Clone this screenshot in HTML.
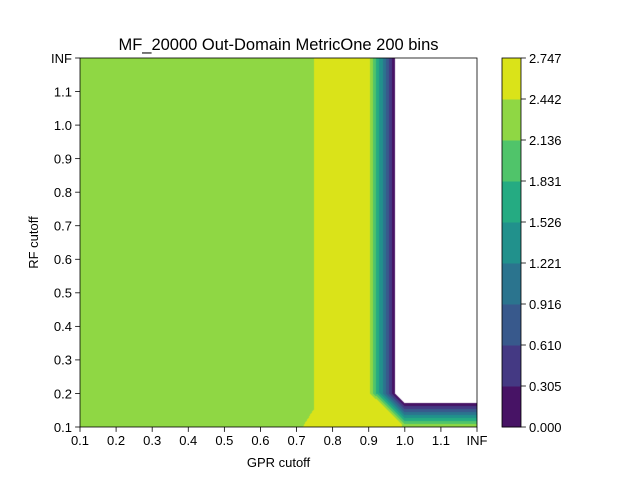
<!DOCTYPE html>
<html><head><meta charset="utf-8">
<style>
body{margin:0;background:#fff;}
#wrap{position:relative;width:640px;height:480px;font-family:"Liberation Sans","DejaVu Sans",sans-serif;}
svg text{font-family:"Liberation Sans","DejaVu Sans",sans-serif;fill:#000;}
canvas{position:absolute;left:80px;top:58px;}
</style></head>
<body>
<div id="wrap">
<canvas id="cv" width="397" height="369"></canvas>
<svg id="sv" width="640" height="480" style="position:absolute;left:0;top:0"></svg>
</div>
<script>
const xTickLabels = ["0.1","0.2","0.3","0.4","0.5","0.6","0.7","0.8","0.9","1.0","1.1","INF"];
const yTickLabels = ["0.1","0.2","0.3","0.4","0.5","0.6","0.7","0.8","0.9","1.0","1.1","INF"];
const levels = [0.000,0.305,0.610,0.916,1.221,1.526,1.831,2.136,2.442,2.747];
const levelLabels = ["0.000","0.305","0.610","0.916","1.221","1.526","1.831","2.136","2.442","2.747"];
const bandColors = ["#471365","#443983","#38598c","#2b748e","#21918c","#25ab82","#50c46a","#8fd744","#dae319"];
// z values: rows = y index (0.1 .. INF), columns = x index (0.1 .. INF)
const rowBottom = [2.3,2.3,2.3,2.3,2.3,2.3,2.41,2.6,2.6,2.43,2.43,2.43];
const rowUpper  = [2.3,2.3,2.3,2.3,2.3,2.3,2.3,2.6,2.6,-1,-1,-1];
const Z = [rowBottom];
for (let j=1;j<12;j++) Z.push(rowUpper);

const L=80,T=58,W=397,H=369;
const nx=xTickLabels.length, ny=yTickLabels.length;
function xPix(i){return L+i*W/(nx-1);}
function yPix(j){return T+H-j*H/(ny-1);}

const cv=document.getElementById('cv'),ctx=cv.getContext('2d');
const img=ctx.createImageData(W,H);
const rgb=bandColors.map(c=>[parseInt(c.slice(1,3),16),parseInt(c.slice(3,5),16),parseInt(c.slice(5,7),16)]);
for(let py=0;py<H;py++){for(let px=0;px<W;px++){
  const u=(px+0.5)/(W/(nx-1)), v=(H-py-0.5)/(H/(ny-1));
  let i=Math.min(Math.floor(u),nx-2), j=Math.min(Math.floor(v),ny-2);
  const fu=u-i, fv=v-j;
  const z00=Z[j][i],z10=Z[j][i+1],z01=Z[j+1][i],z11=Z[j+1][i+1];
  let z;
  if(fu+fv<=1) z=z00+fu*(z10-z00)+fv*(z01-z00);
  else z=z11+(1-fu)*(z01-z11)+(1-fv)*(z10-z11);
  const o=(py*W+px)*4;
  if(z<levels[0]||z>levels[levels.length-1]){img.data[o]=255;img.data[o+1]=255;img.data[o+2]=255;img.data[o+3]=255;continue;}
  let k=0;while(k<bandColors.length-1&&z>=levels[k+1])k++;
  img.data[o]=rgb[k][0];img.data[o+1]=rgb[k][1];img.data[o+2]=rgb[k][2];img.data[o+3]=255;
}}
ctx.putImageData(img,0,0);

const NS="http://www.w3.org/2000/svg",sv=document.getElementById('sv');
function mk(tag,attrs,txt){const e=document.createElementNS(NS,tag);for(const k in attrs)e.setAttribute(k,attrs[k]);if(txt!==undefined)e.textContent=txt;sv.appendChild(e);return e;}

let e;
e=mk('rect',{x:L,y:T,width:W,height:H,fill:'none',stroke:'#000','stroke-width':0.8});


xTickLabels.forEach((t,i)=>{
  const x=xPix(i);
  e=mk('line',{x1:x,y1:T+H,x2:x,y2:T+H+4.9,stroke:'#000','stroke-width':0.8});
  
  
  e=mk('text',{x:x,y:T+H+18,'font-size':13,'text-anchor':'middle'},t);
  
  
});
yTickLabels.forEach((t,j)=>{
  const y=yPix(j);
  e=mk('line',{x1:L,y1:y,x2:L-4.9,y2:y,stroke:'#000','stroke-width':0.8});
  
  
  e=mk('text',{x:L-8,y:y+4.8,'font-size':13,'text-anchor':'end'},t);
  
  
});
e=mk('text',{x:L+W/2,y:50,'font-size':16.5,'text-anchor':'middle'},'MF_20000 Out-Domain MetricOne 200 bins');


e=mk('text',{x:L+W/2,y:467,'font-size':13,'text-anchor':'middle'},'GPR cutoff');


e=mk('text',{x:38,y:T+H/2,'font-size':13,'text-anchor':'middle',transform:'rotate(-90 38 '+(T+H/2)+')'},'RF cutoff');



const CX=502,CW=19;
const nb=bandColors.length, bh=H/nb;
bandColors.forEach((c,k)=>{
  e=mk('rect',{x:CX,y:T+H-(k+1)*bh,width:CW,height:bh+0.5,fill:c});
  
  
});
e=mk('rect',{x:CX,y:T,width:CW,height:H,fill:'none',stroke:'#000','stroke-width':0.8});


levelLabels.forEach((t,k)=>{
  const y=T+H-k*bh;
  e=mk('line',{x1:CX+CW,y1:y,x2:CX+CW+4.9,y2:y,stroke:'#000','stroke-width':0.8});
  
  
  e=mk('text',{x:CX+CW+8,y:y+4.8,'font-size':13},t);
  
  
});
</script>
</body></html>
